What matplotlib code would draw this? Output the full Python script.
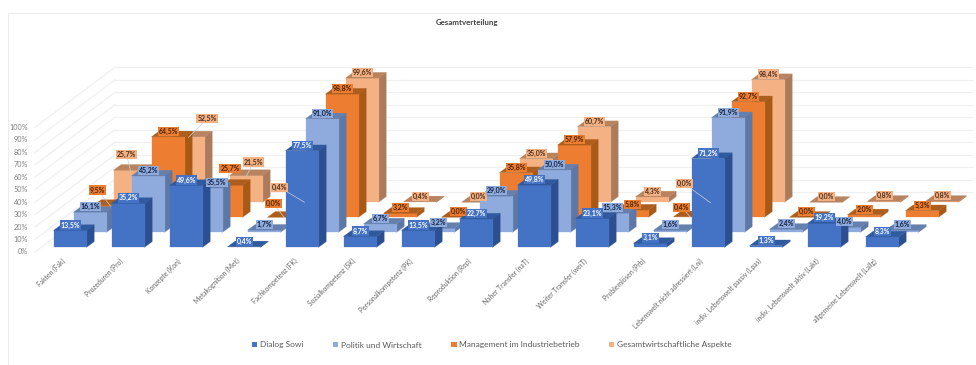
import matplotlib
matplotlib.use('Agg')
import matplotlib.pyplot as plt
from matplotlib.patches import Polygon, Patch

plt.rcParams['font.family'] = ['Lato', 'DejaVu Sans']

title = 'Gesamtverteilung'
categories = ['Fakten (Fak)', 'Prozeduren (Pro)', 'Konzepte (Kon)', 'Metakognition (Met)',
              'Fachkompetenz (FK)', 'Sozialkompetenz (SK)', 'Personalkompetenz (PK)',
              'Reproduktion (Rep)', 'Naher Transfer (naT)', 'Weiter Transfer (weiT)',
              'Problemlösen (Prb)', 'Lebenswelt nicht adressiert (Lni)',
              'indiv. Lebenswelt passiv (Lpas)', 'indiv. Lebenswelt aktiv (Lakt)',
              'allgemeine Lebenswelt (Lallg)']
series_names = ['Dialog Sowi', 'Politik und Wirtschaft',
                'Management im Industriebetrieb', 'Gesamtwirtschaftliche Aspekte']
dialog_sowi = [13.5, 35.2, 49.6, 0.4, 77.5, 8.7, 13.5, 22.7, 49.8, 23.1, 3.1, 71.2, 1.3, 19.2, 8.3]
politik = [16.1, 45.2, 35.5, 1.7, 91.0, 6.7, 3.2, 29.0, 50.0, 15.3, 1.6, 91.9, 2.4, 4.0, 1.6]
management = [9.5, 64.5, 25.7, 0.0, 98.8, 3.2, 0.0, 35.8, 57.9, 5.8, 0.4, 92.7, 0.0, 2.0, 5.3]
gesamt = [25.7, 52.5, 21.5, 0.4, 99.6, 0.4, 0.0, 35.0, 60.7, 4.3, 0.0, 98.4, 0.0, 0.8, 0.8]
values = [dialog_sowi, politik, management, gesamt]
y_ticks = [0, 10, 20, 30, 40, 50, 60, 70, 80, 90, 100]

# front, side, top, label text
colors = [('#4472c4', '#2b4f8f', '#305a9e', 'white'),
          ('#8faadc', '#5d78a6', '#6580ad', '#14233f'),
          ('#ed7d31', '#a65a16', '#ad5e1c', '#4a2508'),
          ('#f4b183', '#ab7b5b', '#b8845f', '#4a2f1c')]

# oblique projection, all in pixels of the picture
left0 = 53.5
bottom0 = 247.3
cat_step = 58
bar_w = 33
ser_dx = 20
ser_dy = -15
depth_dx = 7.7
depth_dy = -5.7
per_percent = 1.247


def project(cat, ser, val):
    x = left0 + cat * cat_step + ser * ser_dx
    y = bottom0 + ser * ser_dy - val * per_percent
    return x, y


# labels pushed off their bars in the original, (series, category): (dx, dy)
label_shift = {
    (3, 0): (-4, -10), (2, 0): (-13, -10), (3, 1): (18.5, -12.5), (2, 2): (3.5, -11),
    (3, 2): (7, -8), (1, 2): (10.5, 0), (2, 3): (-11, -8), (3, 3): (-25, -9),
    (3, 10): (-26, -13), (2, 10): (-9, -4),
}

fig = plt.figure(figsize=(9.76, 3.65), dpi=100)
ax = fig.add_axes([0, 0, 1, 1])
ax.set_xlim(0, 976)
ax.set_ylim(365, 0)
ax.axis('off')

# chart frame
ax.plot([8, 8, 976], [365, 13, 13], color='#ececec', lw=0.7, zorder=0)
ax.text(466.5, 23, title, ha='center', va='center', fontsize=5.7, fontweight='bold', color='#404040')

# walls
wall_x = 115
wall_right = 972
wall_y0 = 192
side_x = 35
side_y0 = 252
for t in y_ticks:
    y_back = wall_y0 - t * per_percent
    y_side = side_y0 - t * per_percent
    ax.plot([wall_x, wall_right], [y_back, y_back], color='#f0f0f0', lw=0.9, zorder=1)
    ax.plot([side_x, wall_x], [y_side, y_back], color='#f0f0f0', lw=0.9, zorder=1)
    ax.text(28, y_side, '%d%%' % t, ha='right', va='center', fontsize=5.2, color='#808080')

# bars, back row first
z = 2
for ser in [3, 2, 1, 0]:
    front, side, top, txt = colors[ser]
    for cat, val in enumerate(values[ser]):
        x0, y0 = project(cat, ser, 0)
        x1, y1 = project(cat, ser, val)
        x2 = x1 + bar_w
        if val > 0:
            ax.add_patch(Polygon([(x2, y0), (x2 + depth_dx, y0 + depth_dy),
                                  (x2 + depth_dx, y1 + depth_dy), (x2, y1)],
                                 facecolor=side, edgecolor=side, lw=0.2, zorder=z))
            ax.add_patch(Polygon([(x0, y0), (x2, y0), (x2, y1), (x0, y1)],
                                 facecolor=front, edgecolor=front, lw=0.2, zorder=z))
        ax.add_patch(Polygon([(x1, y1), (x2, y1), (x2 + depth_dx, y1 + depth_dy),
                              (x1 + depth_dx, y1 + depth_dy)],
                             facecolor=top, edgecolor=top, lw=0.2, zorder=z))
        z += 1

# data labels on top of everything
for ser in [3, 2, 1, 0]:
    front, side, top, txt = colors[ser]
    for cat, val in enumerate(values[ser]):
        x1, y1 = project(cat, ser, val)
        lx = x1 + bar_w / 2 + 0.5
        ly = y1 - 5.5
        dx, dy = label_shift.get((ser, cat), (0, 0))
        if abs(dx) + abs(dy) > 12:
            ax.plot([lx, lx + dx], [ly + 6, ly + dy], color='#c8d0dc', lw=0.5, zorder=z)
        ax.text(lx + dx, ly + dy, ('%.1f%%' % val).replace('.', ','), ha='center', va='center',
                fontsize=5.0, fontweight='bold', color=txt, zorder=z + 1,
                bbox=dict(boxstyle='square,pad=0.15', facecolor=front, edgecolor='none'))

# category labels
for cat, name in enumerate(categories):
    x0, y0 = project(cat, 0, 0)
    ax.text(x0 + 8, y0 + 10, name, rotation=45, rotation_mode='anchor', ha='right', va='top',
            fontsize=4.9, color='#666666')

handles = [Patch(facecolor=c[0], label=n) for c, n in zip(colors, series_names)]
ax.legend(handles=handles, loc='center', bbox_to_anchor=(492 / 976, 1 - 345 / 365), ncol=4,
          frameon=False, fontsize=6.0, handlelength=0.65, handleheight=0.65, handletextpad=0.35,
          columnspacing=3.5, labelcolor='#595959')

fig.savefig('out.png', dpi=100)
